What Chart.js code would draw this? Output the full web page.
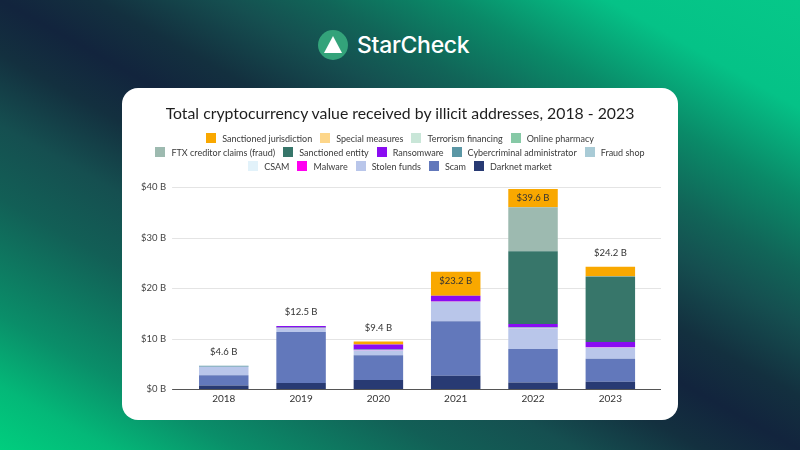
<!DOCTYPE html>
<html>
<head>
<meta charset="utf-8">
<script src="https://cdn.jsdelivr.net/npm/chart.js@4"></script>
<style>
  html, body { margin: 0; padding: 0; }
  body {
    width: 800px; height: 450px; overflow: hidden; position: relative;
    font-family: Lato, "Noto Sans", sans-serif;
    background: linear-gradient(to bottom left, #06c889 0%, #05c287 12%, #0a8a68 22%, #116558 30%, #154f50 36%, #13303f 44%, #12243d 50%, #13303f 56%, #154f50 64%, #125f56 72%, #0a8e69 85%, #04b878 93%, #00ce7e 100%);
  }
  .logo { position: absolute; left: 318px; top: 30px; height: 30px; display: flex; align-items: center; }
  .logo .mark {
    width: 30px; height: 30px; border-radius: 50%; background: #33a37a;
    position: relative;
  }
  .logo .mark::after {
    content: ""; position: absolute; left: 6px; top: 6px;
    border-left: 9px solid transparent; border-right: 9px solid transparent;
    border-bottom: 17px solid #fff;
  }
  .logo .name { color: #fff; font-family: Inter, Lato, sans-serif; font-size: 23px; font-weight: 500; margin-left: 9px; letter-spacing: -0.3px; }
  .card {
    position: absolute; left: 122px; top: 88px; width: 556px; height: 332px;
    background: #fff; border-radius: 16px; overflow: hidden;
  }
  .card canvas { position: absolute; left: 0; top: 0; }
  .card h1 {
    position: absolute; left: 0; top: 15px; width: 556px; margin: 0;
    text-align: center; font-weight: normal; font-size: 15.8px; line-height: 20px; color: #1e1e1e;
  }
  #legend { position: absolute; left: 0; top: 43px; width: 556px; font-size: 9px; color: #3a3a3a; }
  #legend .row { display: flex; justify-content: center; height: 14px; white-space: nowrap; }
  #legend .item { display: flex; align-items: center; margin: 0 4px; }
  #legend .box { width: 10px; height: 10px; margin-right: 6px; }
</style>
</head>
<body>
<div class="logo"><div class="mark"></div><div class="name">StarCheck</div></div>
<div class="card">
  <canvas id="grafico" width="556" height="332"></canvas>
  <h1>Total cryptocurrency value received by illicit addresses, 2018 - 2023</h1>
  <div id="legend"></div>
</div>
<script>
// dados (bilhões de US$)
const years = ["2018", "2019", "2020", "2021", "2022", "2023"];
const totals = [4.6, 12.5, 9.4, 23.2, 39.6, 24.2];

const darknetMarket = [0.7, 1.2, 1.8, 2.6, 1.3, 1.45];
const scam = [2.0, 10.1, 4.9, 10.8, 6.6, 4.55];
const stolenFunds = [1.7, 0.7, 0.9, 3.85, 4.1, 2.1];
const malware = [0, 0.05, 0.05, 0.05, 0.05, 0.05];
const csam = [0, 0, 0, 0, 0.05, 0.05];
const fraudShop = [0, 0.05, 0.05, 0.05, 0.05, 0.05];
const cybercriminalAdmin = [0.2, 0.1, 0.1, 0.05, 0.1, 0.05];
const ransomware = [0, 0.3, 1.0, 1.05, 0.6, 1.0];
const sanctionedEntity = [0, 0, 0, 0, 14.45, 13.0];
const ftxClaims = [0, 0, 0, 0, 8.7, 0];
const onlinePharmacy = [0, 0, 0, 0, 0, 0];
const terrorismFinancing = [0, 0, 0, 0, 0, 0.05];
const specialMeasures = [0, 0, 0, 0, 0, 0];
const sanctionedJurisdiction = [0, 0, 0.6, 4.75, 3.6, 1.85];

const yTicks = ["$0 B", "$10 B", "$20 B", "$30 B", "$40 B"];

// de baixo para cima na pilha
const series = [
  ["Darknet market", darknetMarket, "#283a73"],
  ["Scam", scam, "#6278bb"],
  ["Stolen funds", stolenFunds, "#b9c6ea"],
  ["Malware", malware, "#ff00f0"],
  ["CSAM", csam, "#e2f2fa"],
  ["Fraud shop", fraudShop, "#a9cbd6"],
  ["Cybercriminal administrator", cybercriminalAdmin, "#5b97a5"],
  ["Ransomware", ransomware, "#8a0cf2"],
  ["Sanctioned entity", sanctionedEntity, "#37766a"],
  ["FTX creditor claims (fraud)", ftxClaims, "#9dbab0"],
  ["Online pharmacy", onlinePharmacy, "#86c9a6"],
  ["Terrorism financing", terrorismFinancing, "#c9e6d8"],
  ["Special measures", specialMeasures, "#fdd68a"],
  ["Sanctioned jurisdiction", sanctionedJurisdiction, "#f9a800"],
];

// legenda em HTML (ordem invertida, linhas de 4, 5 e 5)
const legendEl = document.getElementById("legend");
let row;
series.slice().reverse().forEach(([name, , color], i) => {
  if (i === 0 || i === 4 || i === 9) {
    row = document.createElement("div");
    row.className = "row";
    legendEl.appendChild(row);
  }
  const item = document.createElement("div");
  item.className = "item";
  item.innerHTML = '<span class="box" style="background:' + color + '"></span>' + name;
  row.appendChild(item);
});

// linhas de grade um pouco além da área dos dados
const wideGrid = {
  id: "wideGrid",
  beforeDatasetsDraw(chart) {
    const { ctx, chartArea } = chart;
    const y = chart.scales.y;
    ctx.save();
    ctx.lineWidth = 1;
    y.ticks.forEach((t) => {
      const py = Math.round(y.getPixelForValue(t.value)) + 0.5;
      ctx.strokeStyle = t.value === 0 ? "#555" : "#e4e4e4";
      ctx.beginPath();
      ctx.moveTo(chartArea.left - 13, py);
      ctx.lineTo(chartArea.right + 12, py);
      ctx.stroke();
    });
    ctx.restore();
  },
};

// rótulos de total
const totalLabels = {
  id: "totalLabels",
  afterDatasetsDraw(chart) {
    const { ctx } = chart;
    const y = chart.scales.y;
    const topMeta = chart.getDatasetMeta(series.length - 1);
    ctx.save();
    ctx.font = "9.5px Lato, sans-serif";
    ctx.fillStyle = "#333";
    ctx.textAlign = "center";
    ctx.textBaseline = "middle";
    years.forEach((yr, i) => {
      const sum = series.reduce((s, d) => s + d[1][i], 0);
      const top = y.getPixelForValue(sum);
      const sjHeight = y.getPixelForValue(0) - y.getPixelForValue(sanctionedJurisdiction[i]);
      const x = topMeta.data[i].x;
      const ly = sjHeight > 15 ? top + 9 : top - 14;
      ctx.fillText("$" + totals[i].toFixed(1) + " B", x, ly);
    });
    ctx.restore();
  },
};

const ctx = document.getElementById("grafico").getContext("2d");
new Chart(ctx, {
  type: "bar",
  data: {
    labels: years,
    datasets: series.map(([name, values, color]) => ({
      label: name,
      data: values,
      backgroundColor: color,
      borderWidth: 0,
      categoryPercentage: 0.8,
      barPercentage: 0.8,
    })),
  },
  options: {
    responsive: false,
    animation: false,
    layout: { padding: { top: 99, left: 0, right: 29, bottom: 11 } },
    plugins: {
      legend: { display: false },
      tooltip: { enabled: false },
    },
    scales: {
      x: {
        stacked: true,
        grid: { display: false, drawTicks: false },
        border: { display: false },
        ticks: { color: "#333", font: { family: "Lato", size: 10 }, padding: 4 },
      },
      y: {
        stacked: true,
        min: 0,
        max: 40,
        ticks: {
          stepSize: 10,
          color: "#444",
          font: { family: "Lato", size: 9.5 },
          padding: 19,
          callback: (v) => yTicks[v / 10],
        },
        grid: { display: false, drawTicks: false },
        border: { display: false },
      },
    },
  },
  plugins: [wideGrid, totalLabels],
});
</script>
</body>
</html>
